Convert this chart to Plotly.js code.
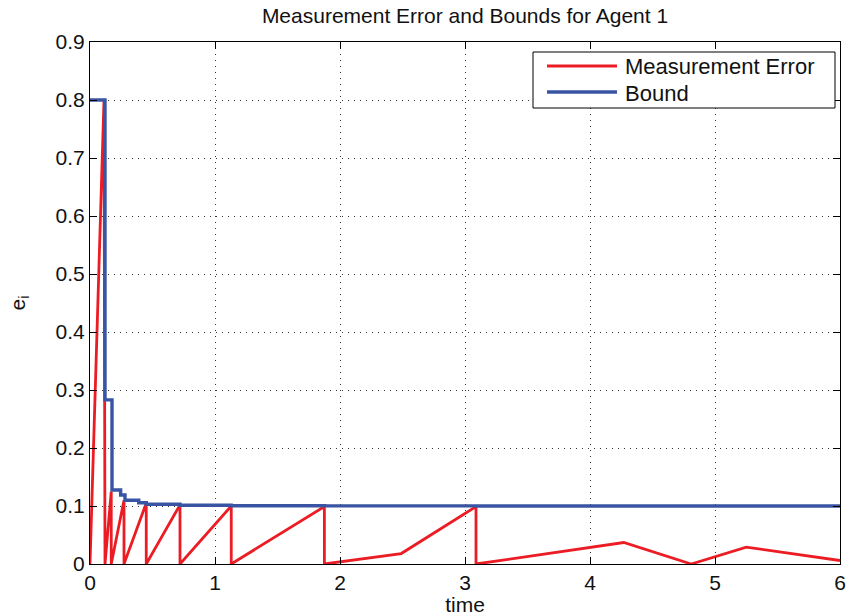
<!DOCTYPE html>
<html>
<head>
<meta charset="utf-8">
<script src="https://cdn.plot.ly/plotly-3.0.1.min.js"></script>
<style>html,body{margin:0;padding:0;background:#fff;}#chart{width:847px;height:616px;}</style>
</head>
<body>
<div id="chart"></div>
<script>
// Measurement error (sawtooth resets) for agent 1
const errT = [0, 0.112, 0.12, 0.17, 0.17, 0.272, 0.272, 0.45, 0.45, 0.72, 0.72, 1.13, 1.13, 1.875, 1.875, 2.49, 3.088, 3.088, 4.27, 4.81, 5.25, 6];
const errV = [0, 0.80, 0, 0.125, 0, 0.11, 0, 0.105, 0, 0.102, 0, 0.100, 0, 0.099, 0, 0.018, 0.099, 0, 0.037, 0, 0.029, 0.006];
// Bound (piecewise constant, changes at event times)
const boundT = [0, 0.12, 0.176, 0.245, 0.28, 0.39, 0.45, 0.72, 1.13, 1.875, 3.088, 6];
const boundV = [0.8, 0.283, 0.1276, 0.119, 0.110, 0.1057, 0.103, 0.1012, 0.1005, 0.1002, 0.1001, 0.1001];
const xTicks = [0, 1, 2, 3, 4, 5, 6];
const yTicks = [0, 0.1, 0.2, 0.3, 0.4, 0.5, 0.6, 0.7, 0.8, 0.9];
const seriesNames = ["Measurement Error", "Bound"];
const seriesColors = ["#ec1c24", "#3a54a4"];

const FONT = "Liberation Sans, Arial, Helvetica, sans-serif";

const traces = [
  {x: errT, y: errV, type: "scatter", mode: "lines", name: seriesNames[0],
   line: {color: seriesColors[0], width: 2.8}, showlegend: false},
  {x: boundT, y: boundV, type: "scatter", mode: "lines", name: seriesNames[1],
   line: {color: seriesColors[1], width: 3.4, shape: "hv"}, showlegend: false}
];

// Manual MATLAB-style legend (paper coordinates)
const W = 847, H = 616, L = 90, R = 7, T = 42, B = 52;
const pw = W - L - R, ph = H - T - B;
const px = v => (v - L) / pw;
const py = v => 1 - (v - T) / ph;

const shapes = [
  {type: "rect", xref: "paper", yref: "paper", x0: px(533), x1: px(835), y0: py(52), y1: py(108),
   line: {color: "#000", width: 1}, fillcolor: "#fff", layer: "above"},
  {type: "line", xref: "paper", yref: "paper", x0: px(547), x1: px(617), y0: py(66), y1: py(66),
   line: {color: seriesColors[0], width: 2.8}, layer: "above"},
  {type: "line", xref: "paper", yref: "paper", x0: px(547), x1: px(617), y0: py(92), y1: py(92),
   line: {color: seriesColors[1], width: 3.4}, layer: "above"}
];
const annotations = [
  {xref: "paper", yref: "paper", x: px(623), y: py(67), xanchor: "left", yanchor: "middle",
   text: seriesNames[0], showarrow: false, font: {family: FONT, size: 22, color: "#111"}},
  {xref: "paper", yref: "paper", x: px(623), y: py(93), xanchor: "left", yanchor: "middle",
   text: seriesNames[1], showarrow: false, font: {family: FONT, size: 22, color: "#111"}}
];

const axisCommon = {
  showline: true, linecolor: "#000", linewidth: 1, mirror: "ticks",
  ticks: "inside", ticklen: 7, tickwidth: 1, tickcolor: "#000",
  showgrid: true, gridcolor: "#333", griddash: "1px,5px", gridwidth: 1,
  zeroline: false, tickfont: {family: FONT, size: 21, color: "#111"}
};

const layout = {
  width: W, height: H,
  margin: {l: L, r: R, t: T, b: B},
  paper_bgcolor: "#fff", plot_bgcolor: "#fff",
  title: {text: "Measurement Error and Bounds for Agent 1", x: 0.5, xref: "paper", xanchor: "center",
          y: 1 - 16 / H, yref: "container", yanchor: "middle",
          font: {family: FONT, size: 21, color: "#111"}},
  xaxis: Object.assign({}, axisCommon, {
    range: [0, 6], tickvals: xTicks, ticktext: xTicks.map(String),
    title: {text: "time", font: {family: FONT, size: 21, color: "#111"}, standoff: 2}
  }),
  yaxis: Object.assign({}, axisCommon, {
    range: [0, 0.9], tickvals: yTicks, ticktext: yTicks.map(v => v === 0 ? "0" : v.toFixed(1)),
    title: {text: "e<sub>i</sub>", font: {family: FONT, size: 21, color: "#111"}, standoff: 24}
  }),
  shapes: shapes,
  annotations: annotations,
  showlegend: false
};

Plotly.newPlot("chart", traces, layout, {displayModeBar: false, staticPlot: true});
</script>
</body>
</html>
